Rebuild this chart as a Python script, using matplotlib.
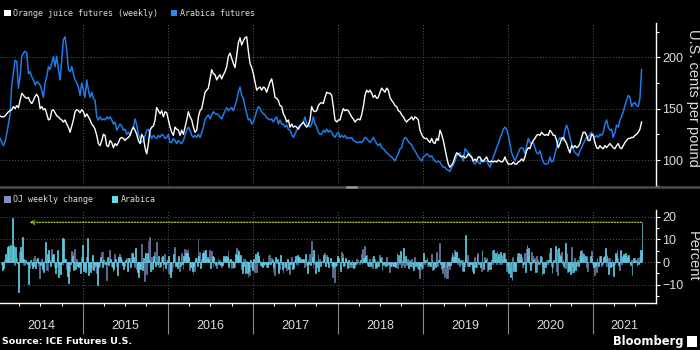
#!/usr/bin/env python3
"""
Orange juice vs arabica futures: weekly prices (top) and weekly % change (bottom),
drawn in the dark Bloomberg chart style. Saves out.png (700x350).
"""

from __future__ import annotations

import matplotlib

matplotlib.use("Agg")
import matplotlib.dates as mdates
import matplotlib.pyplot as plt
import numpy as np
import pandas as pd
from matplotlib.lines import Line2D
from matplotlib.patches import Rectangle
from matplotlib.ticker import FixedLocator, MultipleLocator
from matplotlib.transforms import blended_transform_factory

W, H = 700, 350

# weekly closes, first and last reading
START = "2014-01-10"
END = "2021-07-30"

# U.S. cents per pound
OJ_PRICE = [
    143, 142, 142, 143, 145, 147, 148, 149, 152, 150, 153, 151, 158, 165, 163, 161, 160, 161, 157, 155,
    158, 162, 164, 161, 150, 152, 149, 150, 145, 139, 140, 148, 149, 146, 143, 142, 140, 139, 137, 139,
    135, 132, 127, 133, 139, 147, 149, 148, 146, 149, 147, 142, 145, 142, 139, 135, 133, 130, 124, 116,
    114, 119, 125, 124, 114, 113,
    119, 117, 112, 116, 114, 117, 121, 122, 121, 119, 121, 122, 124, 129, 132, 129, 125, 119, 116, 125,
    122, 112, 106, 116, 129, 132, 133, 139, 151, 148, 145, 148, 142, 147, 146, 139, 132, 127, 124, 132,
    130, 129, 124, 129, 125, 132, 139, 147, 142, 139, 132, 127, 129, 142, 148, 150, 158, 166, 168, 170,
    179, 188, 184, 183, 178, 181,
    183, 179, 183, 186, 191, 201, 204, 199, 194, 190, 202, 214, 219, 212, 216, 219, 220, 206, 194, 190,
    184, 176, 168, 170, 171, 168, 171, 170, 166, 171, 176, 179, 171, 161, 160, 158, 153, 152, 145, 142,
    137, 139, 132, 135, 132, 133, 132, 130, 133, 135, 137, 134, 132, 134, 139, 152, 148, 147, 148, 153,
    155, 156, 155, 161, 166, 165,
    165, 163, 152, 139, 137, 139, 139, 145, 150, 148, 149, 148, 145, 142, 140, 137, 139, 140, 139, 144,
    152, 163, 168, 166, 168, 165, 161, 163, 160, 161, 166, 170, 168, 166, 170, 168, 161, 158, 156, 153,
    152, 148, 147, 144, 142, 139, 137, 139, 140, 142, 139, 142, 141, 139, 129, 125, 122, 121, 121, 119,
    117, 121, 117, 116, 121, 119,
    129, 125, 119, 111, 103, 96, 93, 95, 98, 103, 107, 106, 104, 103, 104, 102, 103, 106, 104, 103,
    99, 101, 99, 103, 103, 99, 99, 101, 103, 99, 98, 99, 98, 99, 98, 100, 99, 98, 99, 103,
    99, 96, 96, 96, 98, 96, 96, 98, 99, 101, 99, 103, 109, 112, 111, 116, 119, 121, 124, 125,
    124, 127, 125, 124, 125, 124,
    129, 127, 124, 124, 119, 112, 116, 121, 122, 119, 116, 111, 107, 114, 112, 114, 112, 113, 116, 122,
    127, 127, 124, 119, 119, 125, 124, 117, 112, 111, 114, 112, 111, 114, 112, 114, 116, 114, 112, 111,
    114, 116, 112, 111, 114, 117, 119, 121, 121, 122, 122, 124, 125, 127, 130, 137,
]

ARABICA_PRICE = [
    121, 117, 114, 118, 126, 135, 145, 173, 185, 197, 196, 170, 181, 201, 204, 206, 204, 184, 186, 181,
    178, 173, 176, 175, 173, 168, 161, 175, 181, 191, 188, 194, 201, 191, 201, 188, 178, 197, 217, 220,
    207, 188, 186, 191, 184, 178, 175, 171, 163, 175, 168, 161, 178, 168, 161, 166, 160, 158, 142, 139,
    142, 139, 140, 139, 142, 140,
    142, 139, 135, 137, 129, 132, 135, 133, 129, 130, 125, 127, 124, 129, 132, 140, 134, 125, 121, 117,
    119, 124, 129, 130, 125, 121, 124, 122, 121, 124, 122, 125, 124, 121, 122, 125, 117, 117, 121, 119,
    116, 119, 117, 116, 119, 124, 129, 132, 129, 124, 122, 124, 122, 125, 122, 127, 132, 139, 142, 144,
    140, 144, 147, 145, 145, 144,
    142, 140, 144, 148, 151, 148, 150, 151, 148, 153, 158, 166, 171, 163, 160, 152, 145, 139, 140, 135,
    137, 142, 148, 152, 150, 147, 145, 144, 141, 140, 139, 140, 137, 140, 142, 135, 139, 135, 135, 132,
    134, 130, 129, 125, 122, 125, 129, 132, 134, 135, 137, 142, 135, 134, 132, 135, 142, 135, 132, 127,
    125, 125, 129, 127, 130, 127,
    129, 127, 124, 122, 125, 127, 122, 124, 122, 124, 121, 122, 121, 122, 119, 118, 117, 117, 118, 117,
    119, 122, 121, 119, 117, 119, 122, 119, 116, 114, 116, 112, 111, 109, 107, 106, 104, 103, 101, 99,
    103, 106, 111, 112, 119, 122, 121, 118, 116, 115, 111, 109, 106, 103, 101, 99, 103, 104, 106, 105,
    103, 104, 101, 99, 98, 99,
    98, 95, 93, 93, 91, 90, 89, 93, 95, 99, 104, 106, 107, 103, 99, 111, 109, 107, 106, 103,
    98, 96, 99, 98, 96, 101, 98, 99, 99, 96, 93, 98, 103, 107, 112, 116, 121, 125, 130, 132,
    130, 124, 116, 107, 103, 99, 103, 107, 111, 112, 111, 106, 114, 121, 117, 116, 117, 112, 107, 106,
    109, 103, 98, 96, 96, 97,
    103, 98, 99, 106, 112, 119, 122, 121, 119, 129, 134, 129, 122, 116, 111, 107, 106, 104, 109, 112,
    116, 119, 122, 122, 125, 127, 124, 122, 124, 122, 125, 124, 127, 135, 139, 132, 129, 130, 122, 127,
    134, 132, 139, 142, 147, 153, 158, 163, 161, 152, 155, 156, 153, 152, 160, 188,
]

TOP_LEGEND = ["Orange juice futures (weekly)", "Arabica futures"]
BOTTOM_LEGEND = ["OJ weekly change", "Arabica"]
PRICE_TICKS = [100, 150, 200]
PCT_TICKS = [-10, 0, 10, 20]
YEARS = list(range(2014, 2022))
ARROW_FROM = "2014-05-16"

BG = "black"
OJ_COLOR = "white"
ARABICA_COLOR = "#1f7be6"
OJ_BAR = "#6c7fa8"
ARABICA_BAR = "#5fd3e8"
GRID = "#5a5a5a"
TEXT = "#dcdcdc"
ARROW = "#a8d23a"


def fx(px: float) -> float:
    return px / W


def fy(py: float) -> float:
    return 1.0 - py / H


def _legend(fig, items, y: float) -> None:
    # items: (square x in px, colour, label)
    for x, color, label in items:
        fig.add_artist(
            Rectangle((fx(x), fy(y + 3.3)), 6.7 / W, 6.7 / H, transform=fig.transFigure, color=color, lw=0)
        )
        fig.text(fx(x + 9.3), fy(y), label, color=TEXT, fontsize=6.0, family="DejaVu Sans Mono", va="center")


def _style_axis(ax, xlim) -> None:
    ax.set_facecolor(BG)
    ax.set_xlim(*xlim)
    for side in ("left", "top", "bottom"):
        ax.spines[side].set_visible(False)
    ax.spines["right"].set_color("white")
    ax.spines["right"].set_linewidth(1.0)
    ax.yaxis.tick_right()
    ax.tick_params(axis="y", which="major", length=3, width=0.8, color="white", pad=1.5,
                   labelsize=9, labelcolor=TEXT)
    ax.tick_params(axis="y", which="minor", length=2, width=0.8, color="white")
    ax.xaxis.set_major_locator(mdates.YearLocator())
    ax.grid(True, axis="both", which="major", color=GRID, linestyle=(0, (1, 2)), linewidth=0.7)
    ax.set_axisbelow(True)


def main() -> int:
    plt.rcParams["font.family"] = ["Liberation Sans", "DejaVu Sans"]

    oj = np.array(OJ_PRICE, dtype=float)
    arabica = np.array(ARABICA_PRICE, dtype=float)
    dates = pd.date_range(START, END, periods=len(oj))

    oj_chg = np.diff(oj) / oj[:-1] * 100
    arabica_chg = np.diff(arabica) / arabica[:-1] * 100

    # x range: a few days into 2014 up to end of Q3 2021
    xlim = (mdates.date2num(pd.Timestamp("2014-01-09 14:00")), mdates.date2num(pd.Timestamp("2021-09-30")))

    fig = plt.figure(figsize=(W / 100, H / 100), dpi=100, facecolor=BG)

    # --- prices
    ax1 = fig.add_axes([0, fy(186), fx(656), (186 - 23) / H])
    _style_axis(ax1, xlim)
    ax1.plot(dates, arabica, color=ARABICA_COLOR, lw=1.1)
    ax1.plot(dates, oj, color=OJ_COLOR, lw=1.0)
    ax1.set_ylim(74.7, 233.4)
    ax1.yaxis.set_major_locator(FixedLocator(PRICE_TICKS))
    ax1.yaxis.set_minor_locator(MultipleLocator(25))
    ax1.tick_params(axis="x", which="both", length=0, labelbottom=False)

    # --- weekly % change
    ax2 = fig.add_axes([0, fy(303), fx(656), (303 - 210) / H])
    _style_axis(ax2, xlim)
    ax2.spines["bottom"].set_visible(True)
    ax2.spines["bottom"].set_color("white")
    ax2.spines["bottom"].set_linewidth(1.0)
    width = 3.6
    ax2.bar(dates[1:] - pd.Timedelta(days=1.8), oj_chg, width=width, color=OJ_BAR, lw=0.5, edgecolor=OJ_BAR)
    ax2.bar(dates[1:] + pd.Timedelta(days=1.8), arabica_chg, width=width, color=ARABICA_BAR,
            lw=0.5, edgecolor=ARABICA_BAR)
    ax2.set_ylim(-18.0, 22.9)
    ax2.yaxis.set_major_locator(FixedLocator(PCT_TICKS))
    ax2.yaxis.set_minor_locator(MultipleLocator(5))
    ax2.xaxis.set_minor_locator(mdates.MonthLocator(bymonth=[4, 7, 10]))
    ax2.tick_params(axis="x", which="major", length=22, width=0.8, color="#8a8a8a", labelbottom=False)
    ax2.tick_params(axis="x", which="minor", length=2.5, width=0.8, color="white")

    # latest arabica jump, carried back to the last time it was this big
    level = arabica_chg[-1]
    ax2.annotate(
        "",
        xy=(mdates.date2num(pd.Timestamp(ARROW_FROM)), level),
        xytext=(mdates.date2num(dates[-1]), level),
        arrowprops=dict(arrowstyle="->", color=ARROW, lw=0.9, linestyle=(0, (1, 1.3)),
                        shrinkA=0, shrinkB=0, mutation_scale=7),
    )

    # year labels centred on the visible part of each year
    trans = blended_transform_factory(ax2.transData, fig.transFigure)
    for year in YEARS:
        lo = max(mdates.date2num(pd.Timestamp(f"{year}-01-01")), xlim[0])
        hi = min(mdates.date2num(pd.Timestamp(f"{year + 1}-01-01")), xlim[1])
        ax2.text((lo + hi) / 2, fy(326), str(year), transform=trans, ha="center", va="center",
                 color=TEXT, fontsize=9)

    # separator between panels, with the little drag handle
    fig.add_artist(Line2D([0, 1], [fy(187), fy(187)], transform=fig.transFigure, color="#4d4d4d", lw=1.8))
    fig.add_artist(Line2D([fx(347), fx(356)], [fy(187), fy(187)], transform=fig.transFigure,
                          color="#9a9a9a", lw=1.8))

    _legend(fig, [(4, OJ_COLOR, TOP_LEGEND[0]), (170.7, "#2b86ec", TOP_LEGEND[1])], 13)
    _legend(fig, [(4, "#8093bb", BOTTOM_LEGEND[0]), (111.7, "#66dcef", BOTTOM_LEGEND[1])], 199.3)

    fig.text(fx(693), fy(98), "U.S. cents per pound", rotation=270, ha="center", va="center",
             color=TEXT, fontsize=10.5)
    fig.text(fx(693), fy(256), "Percent", rotation=270, ha="center", va="center",
             color=TEXT, fontsize=10.5)

    fig.text(fx(2), fy(342), "Source: ICE Futures U.S.", color="white", fontsize=6.8,
             family="DejaVu Sans", fontweight="bold", va="center")
    fig.text(fx(683), fy(341), "Bloomberg", color="white", fontsize=8.3, family="DejaVu Sans",
             fontweight="bold", ha="right", va="center")
    fig.add_artist(Rectangle((fx(687), fy(347)), 10 / W, 11 / H, transform=fig.transFigure,
                             color="white", lw=0))

    fig.savefig("out.png", dpi=100, facecolor=BG)
    return 0


if __name__ == "__main__":
    raise SystemExit(main())
